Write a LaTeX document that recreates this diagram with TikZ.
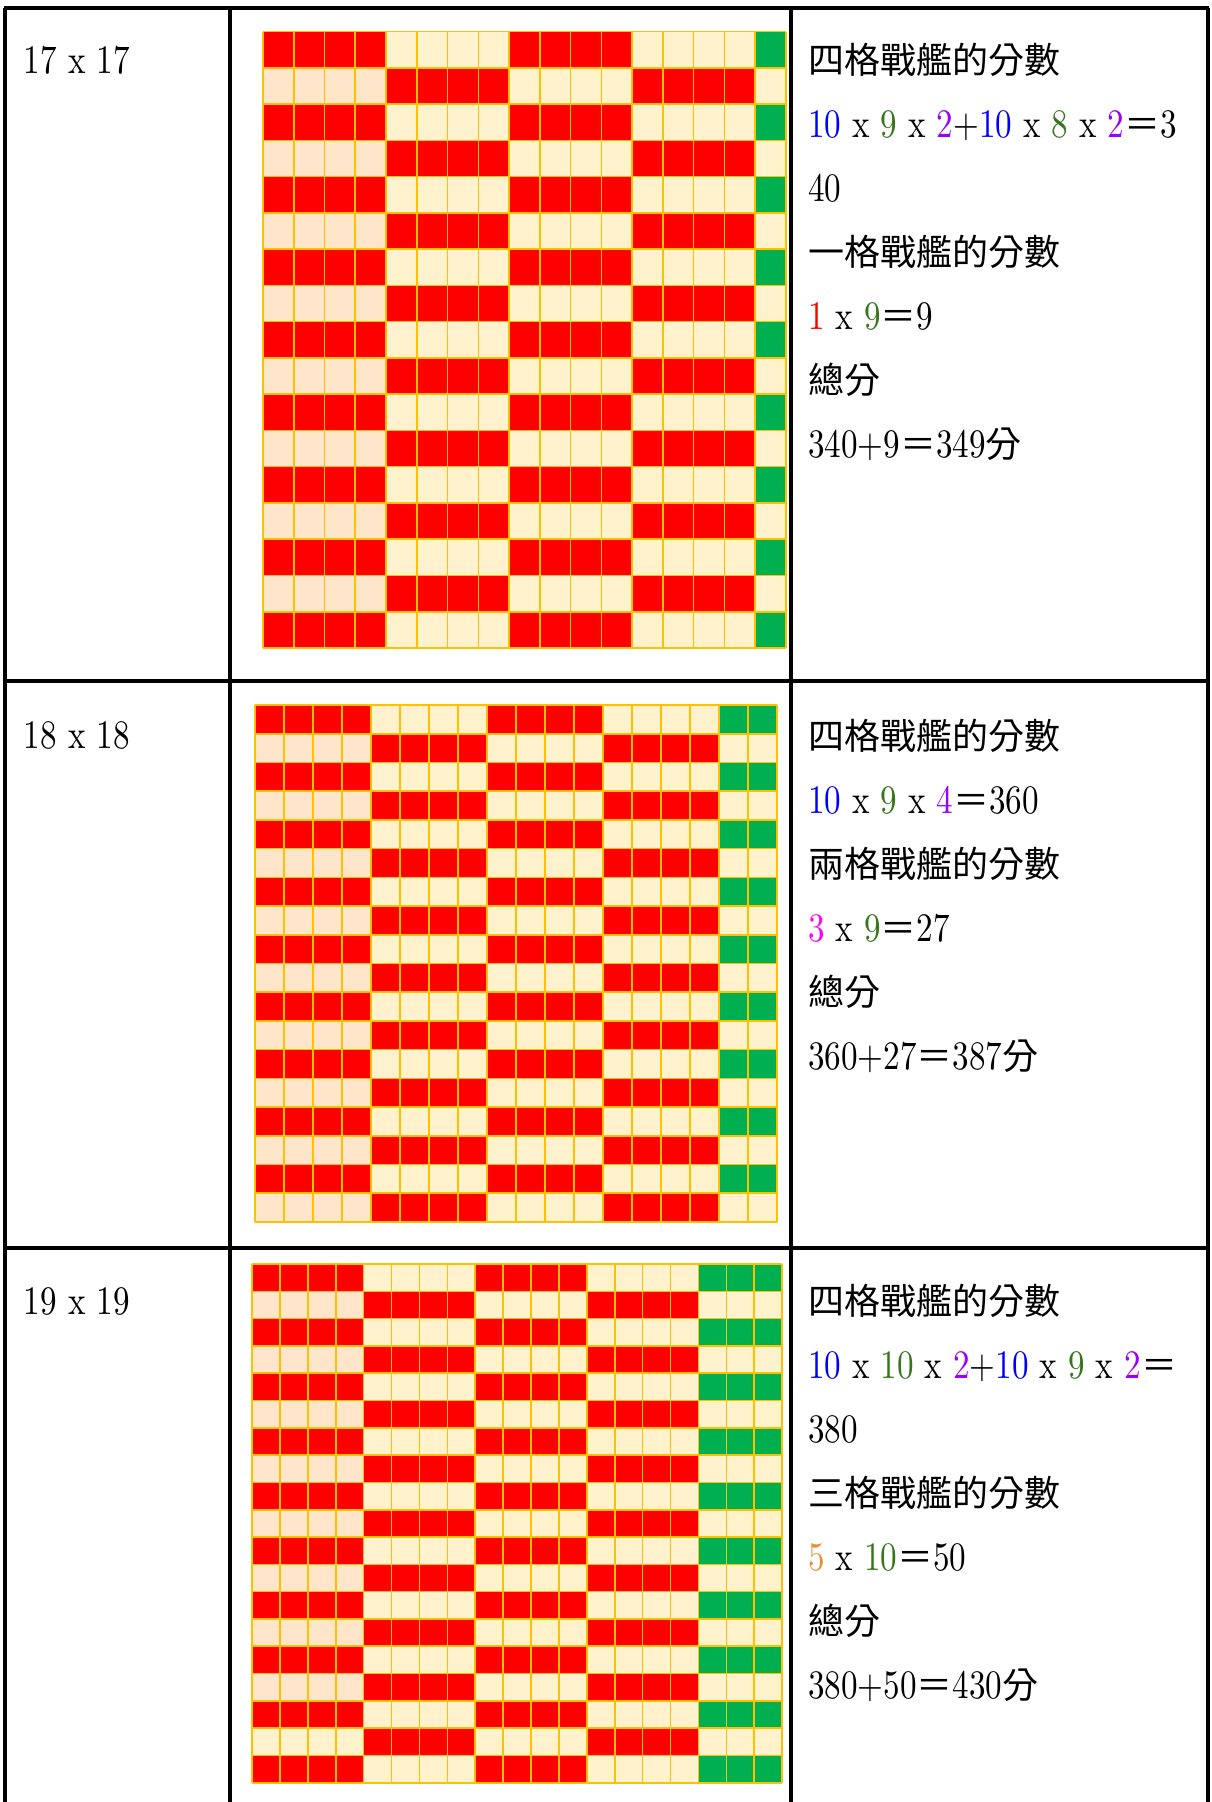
\documentclass[tikz,border=0pt]{standalone}
\usepackage{fontspec}
\newfontfamily\cjk{Noto Sans CJK TC}
\newfontfamily\numfont{lmroman10-regular.otf}[FakeStretch=0.82]
\definecolor{cellred}{HTML}{FF0000}
\definecolor{cellcream}{HTML}{FFF2CC}
\definecolor{cellpeach}{HTML}{FFE5CA}
\definecolor{cellgreen}{HTML}{00B050}
\definecolor{gridgold}{HTML}{FFC000}
\definecolor{numblue}{HTML}{0000FF}
\definecolor{numgreen}{HTML}{38761D}
\definecolor{numpurple}{HTML}{9900FF}
\definecolor{numred}{HTML}{FF0000}
\definecolor{nummagenta}{HTML}{FF00FF}
\definecolor{numorange}{HTML}{E69138}
\newcommand\zh[1]{{\cjk\fontsize{18}{22}\selectfont #1}}
\newcommand\cB[1]{\textcolor{numblue}{#1}}
\newcommand\cG[1]{\textcolor{numgreen}{#1}}
\newcommand\cP[1]{\textcolor{numpurple}{#1}}
\newcommand\cR[1]{\textcolor{numred}{#1}}
\newcommand\cM[1]{\textcolor{nummagenta}{#1}}
\newcommand\cO[1]{\textcolor{numorange}{#1}}
% #1 x0, #2 y0, #3 cell width, #4 cell height, #5 size, #6 odd row without peach (-1 none)
\newcommand\battlegrid[6]{%
  \pgfmathtruncatemacro\gN{#5-1}%
  \foreach \gr in {0,...,\gN}{%
    \foreach \gc in {0,...,\gN}{%
      \pgfmathtruncatemacro\blk{\gc<16 ? int(\gc/4) : 4}%
      \pgfmathtruncatemacro\code{\blk==4 ? (mod(\gr,2)==0 ? 3 : 1) : (mod(\gr+\blk,2)==0 ? 0 : ((\blk==0 && \gr!=#6) ? 2 : 1))}%
      \ifcase\code \def\cellcol{cellred}\or \def\cellcol{cellcream}\or \def\cellcol{cellpeach}\or \def\cellcol{cellgreen}\fi
      \fill[\cellcol] (#1+\gc*#3, #2+\gr*#4) rectangle ++(#3,#4);
    }%
  }%
  \pgfmathtruncatemacro\gM{#5}%
  \foreach \gi in {0,...,\gM}{%
    \draw[gridline] (#1+\gi*#3, #2) -- ++(0, #5*#4);
    \draw[gridline] (#1, #2+\gi*#4) -- ++(#5*#3, 0);
  }%
}
\begin{document}
\begin{tikzpicture}[x=0.5pt,y=-0.5pt,
  tableline/.style={draw=black, line width=1.6pt},
  gridline/.style={draw=gridgold, line width=0.8pt},
  txt/.style={inner sep=0pt, outer sep=0pt, anchor=base west, font=\numfont\fontsize{20.2}{22}\selectfont}]
\useasboundingbox (0,0) rectangle (1211,1802);
\fill[white] (0,0) rectangle (1211,1802);

% grids
\battlegrid{263}{31.7}{30.76}{36.25}{17}{-1}
\battlegrid{255}{705}{29.0}{28.72}{18}{-1}
\battlegrid{252}{1264}{27.9}{27.3}{19}{17}

% table
\draw[tableline] (4,8) -- (1209,8);
\draw[tableline] (4,681) -- (1209,681);
\draw[tableline] (4,1248) -- (1209,1248);
\draw[tableline] (5,8) -- (5,1802);
\draw[tableline] (230,8) -- (230,1802);
\draw[tableline] (791,8) -- (791,1802);
\draw[tableline] (1208,8) -- (1208,1802);

% left labels
\node[txt] (lab1) at (24,74) {17 x 17};
\node[txt] (lab2) at (24,748) {18 x 18};
\node[txt] (lab3) at (24,1314) {19 x 19};

% row 1 text
\node[txt] (a1) at (808,74) {\zh{四格戰艦的分數}};
\node[txt] (a2) at (808,138) {\cB{10} x \cG{9} x \cP{2}+\cB{10} x \cG{8} x \cP{2}\zh{＝}3};
\node[txt] (a3) at (808,202) {40};
\node[txt] (a4) at (808,266) {\zh{一格戰艦的分數}};
\node[txt] (a5) at (808,330) {\cR{1} x \cG{9}\zh{＝}9};
\node[txt] (a6) at (808,394) {\zh{總分}};
\node[txt] (a7) at (808,458) {340+9\zh{＝}349\zh{分}};

% row 2 text
\node[txt] (b1) at (808,749) {\zh{四格戰艦的分數}};
\node[txt] (b2) at (808,813) {\cB{10} x \cG{9} x \cP{4}\zh{＝}360};
\node[txt] (b3) at (808,877) {\zh{兩格戰艦的分數}};
\node[txt] (b4) at (808,941) {\cM{3} x \cG{9}\zh{＝}27};
\node[txt] (b5) at (808,1005) {\zh{總分}};
\node[txt] (b6) at (808,1069) {360+27\zh{＝}387\zh{分}};

% row 3 text
\node[txt] (c1) at (808,1314) {\zh{四格戰艦的分數}};
\node[txt] (c2) at (808,1378) {\cB{10} x \cG{10} x \cP{2}+\cB{10} x \cG{9} x \cP{2}\zh{＝}};
\node[txt] (c3) at (808,1442) {380};
\node[txt] (c4) at (808,1506) {\zh{三格戰艦的分數}};
\node[txt] (c5) at (808,1570) {\cO{5} x \cG{10}\zh{＝}50};
\node[txt] (c6) at (808,1634) {\zh{總分}};
\node[txt] (c7) at (808,1698) {380+50\zh{＝}430\zh{分}};
\end{tikzpicture}
\end{document}
